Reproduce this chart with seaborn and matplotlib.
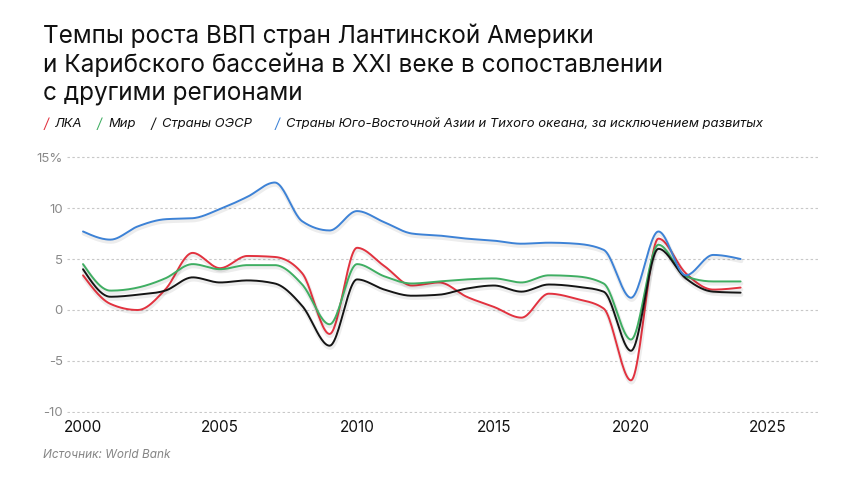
import numpy as np
import pandas as pd
import matplotlib
matplotlib.use("Agg")
import matplotlib.pyplot as plt
import matplotlib.patheffects as pe
import seaborn as sns

years = list(range(2000, 2025))
lka = [3.4, 0.6, 0.0, 2.0, 5.6, 4.1, 5.3, 5.2, 3.6, -2.35, 6.1, 4.3, 2.4, 2.7, 1.3, 0.3,
       -0.75, 1.6, 1.1, 0.15, -6.9, 7.0, 3.6, 2.0, 2.2]
mir = [4.5, 1.9, 2.2, 3.1, 4.5, 4.0, 4.4, 4.4, 2.5, -1.4, 4.5, 3.3, 2.6, 2.8, 3.0, 3.1,
       2.7, 3.4, 3.3, 2.6, -2.9, 6.4, 3.3, 2.8, 2.8]
oecd = [4.0, 1.3, 1.5, 1.9, 3.2, 2.7, 2.9, 2.6, 0.4, -3.5, 3.0, 2.0, 1.4, 1.5, 2.1, 2.4,
        1.8, 2.5, 2.3, 1.8, -4.0, 6.0, 3.1, 1.8, 1.7]
asia = [7.7, 6.9, 8.2, 8.9, 9.0, 9.9, 11.1, 12.5, 8.7, 7.8, 9.7, 8.6, 7.5, 7.3, 7.0, 6.8,
        6.5, 6.6, 6.5, 5.9, 1.2, 7.7, 3.4, 5.4, 5.0]

series_names = ["ЛКА", "Мир", "Страны ОЭСР",
                "Страны Юго-Восточной Азии и Тихого океана, за исключением развитых"]
series_values = [lka, mir, oecd, asia]
colors = ["#e2323f", "#3fae62", "#151515", "#3d82d6"]

yticks = [-10, -5, 0, 5, 10, 15]
ytick_labels = ["-10", "-5", "0", "5", "10", "15%"]
xticks = [2000, 2005, 2010, 2015, 2020, 2025]
xtick_labels = ["2000", "2005", "2010", "2015", "2020", "2025"]

title = ("Темпы роста ВВП стран Лантинской Америки\n"
         "и Карибского бассейна в XXI веке в сопоставлении\n"
         "с другими регионами")
source = "Источник: World Bank"


def monotone_curve(x, y, n=24):
    """Monotone cubic (d3 curveMonotoneX style) rendering of a polyline."""
    x = np.asarray(x, float)
    y = np.asarray(y, float)
    h = np.diff(x)
    s = np.diff(y) / h
    m = np.zeros_like(y)
    for i in range(1, len(y) - 1):
        s0, s1 = s[i - 1], s[i]
        p = (s0 * h[i] + s1 * h[i - 1]) / (h[i - 1] + h[i])
        m[i] = (np.sign(s0) + np.sign(s1)) * min(abs(s0), abs(s1), 0.5 * abs(p))
    m[0] = (3 * s[0] - m[1]) / 2
    m[-1] = (3 * s[-1] - m[-2]) / 2
    xs, ys = [], []
    for i in range(len(x) - 1):
        t = np.linspace(0, 1, n, endpoint=(i == len(x) - 2))
        h00 = 2 * t**3 - 3 * t**2 + 1
        h10 = t**3 - 2 * t**2 + t
        h01 = -2 * t**3 + 3 * t**2
        h11 = t**3 - t**2
        xs.append(x[i] + t * h[i])
        ys.append(h00 * y[i] + h10 * h[i] * m[i] + h01 * y[i + 1] + h11 * h[i] * m[i + 1])
    return np.concatenate(xs), np.concatenate(ys)


sns.set_theme(style="white")
plt.rcParams["font.family"] = ["Inter", "DejaVu Sans"]

fig = plt.figure(figsize=(8.6, 4.84), dpi=100)
fig.patch.set_facecolor("white")
W, H = 860, 484
left_px, right_px, top_px, bottom_px = 67, 818, 156, 413
ax = fig.add_axes([left_px / W, 1 - bottom_px / H,
                   (right_px - left_px) / W, (bottom_px - top_px) / H])

for name, vals, col in zip(series_names, series_values, colors):
    sx, sy = monotone_curve(years, vals)
    df = pd.DataFrame({"year": sx, "value": sy})
    sns.lineplot(data=df, x="year", y="value", ax=ax, color=col, linewidth=1.4,
                 sort=False, estimator=None,
                 path_effects=[pe.SimpleLineShadow(offset=(0.5, -1.5), shadow_color="#000000",
                                                   alpha=0.07, linewidth=3.0),
                               pe.Normal()])

ax.set_xlim(1999.416, 2026.825)
ax.set_ylim(-10.1, 15.1)
ax.set_yticks(yticks)
ax.set_yticklabels(ytick_labels)
ax.set_xticks(xticks)
ax.set_xticklabels(xtick_labels)
ax.set_xlabel("")
ax.set_ylabel("")
for sp in ax.spines.values():
    sp.set_visible(False)
ax.grid(False)
for yv in yticks:
    ax.axhline(yv, color="#c8c8c8", linewidth=0.8, linestyle=(0, (2.2, 2.2)), zorder=0)
ax.tick_params(axis="y", length=0, pad=3, labelsize=9.5, labelcolor="#8a8a8a")
ax.tick_params(axis="x", length=0, pad=5, labelsize=11, labelcolor="#111111")

fig.text(43 / W, 1 - 24 / H, title, ha="left", va="top", fontsize=17.5,
         color="#111111", linespacing=1.22)

# legend with coloured slashes
leg_y = 1 - 124 / H
slash_x = [44, 97, 151, 275]
text_x = [55, 108, 162, 286]
for sx_, tx_, col, name in zip(slash_x, text_x, colors, series_names):
    fig.text(sx_ / W, leg_y, "/", color=col, fontsize=10, style="italic", va="center",
             ha="left")
    fig.text(tx_ / W, leg_y, name, color="#111111", fontsize=9.4, style="italic",
             va="center", ha="left")

fig.text(43 / W, 1 - 455 / H, source, color="#858585", fontsize=8.5, style="italic",
         va="center", ha="left")

fig.savefig("out.png", dpi=100, facecolor="white")
